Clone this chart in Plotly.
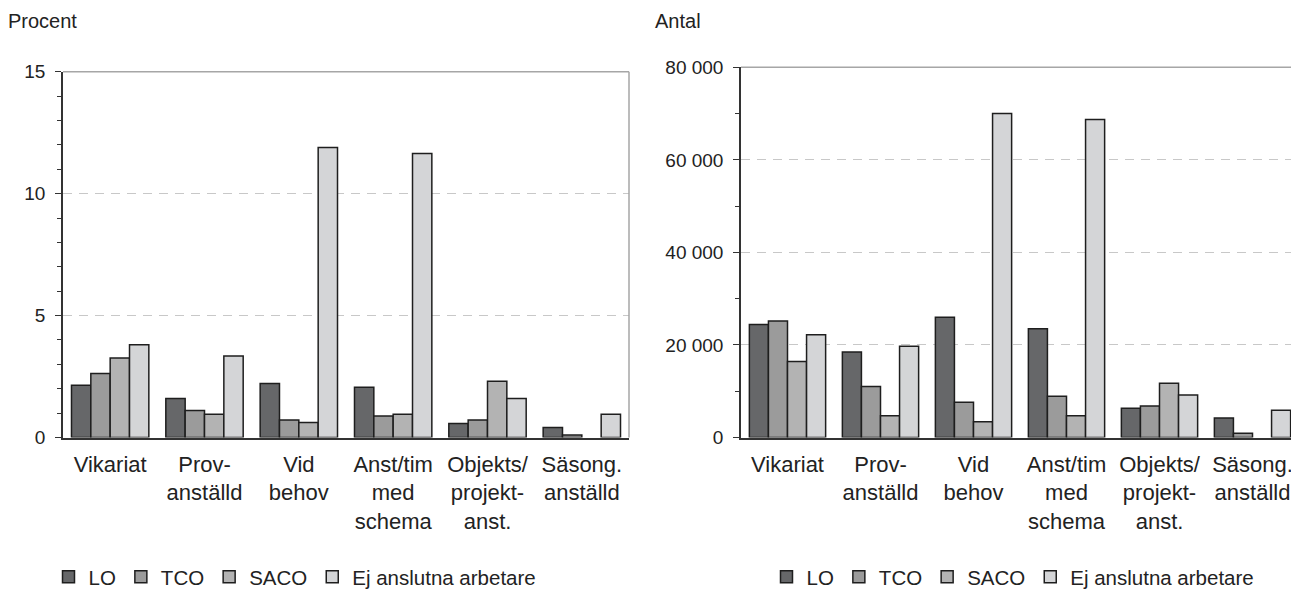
import plotly.graph_objects as go

# ---------------- data ----------------
categories = ["Vikariat", "Prov-<br>anställd", "Vid<br>behov",
              "Anst/tim<br>med<br>schema", "Objekts/<br>projekt-<br>anst.",
              "Säsong.<br>anställd"]
series_names = ["LO", "TCO", "SACO", "Ej anslutna arbetare"]

procent_LO = [2.14, 1.60, 2.21, 2.06, 0.57, 0.41]
procent_TCO = [2.62, 1.11, 0.72, 0.88, 0.72, 0.10]
procent_SACO = [3.26, 0.95, 0.62, 0.95, 2.31, None]
procent_Ej = [3.80, 3.34, 11.89, 11.65, 1.60, 0.95]

antal_LO = [24400, 18500, 26000, 23500, 6300, 4200]
antal_TCO = [25200, 11000, 7600, 8900, 6800, 900]
antal_SACO = [16400, 4700, 3400, 4700, 11700, None]
antal_Ej = [22200, 19700, 70000, 68700, 9200, 5900]

left_title = "Procent"
right_title = "Antal"

# ---------------- style ----------------
W, H = 1291, 589
colors = ["#666769", "#9b9b9b", "#b3b3b3", "#d4d5d7"]
FONT = "Liberation Sans, Arial, Helvetica, sans-serif"
dark = "#333333"
border = "#a6a6a6"


def px_x(x):
    return x / W


def px_y(y):
    return (H - y) / H


fig = go.Figure()

procent = [procent_LO, procent_TCO, procent_SACO, procent_Ej]
antal = [antal_LO, antal_TCO, antal_SACO, antal_Ej]

for name, vals, col in zip(series_names, procent, colors):
    fig.add_trace(go.Bar(x=categories, y=vals, name=name, xaxis="x", yaxis="y",
                         marker=dict(color=col, line=dict(color="#1e1e1e", width=1.5)),
                         legend="legend"))
for name, vals, col in zip(series_names, antal, colors):
    fig.add_trace(go.Bar(x=categories, y=vals, name=name, xaxis="x2", yaxis="y2",
                         marker=dict(color=col, line=dict(color="#1e1e1e", width=1.5)),
                         legend="legend2"))

ybot = px_y(437.5)

xcommon = dict(type="category", showline=True, linecolor=dark, linewidth=1.5,
               ticks="", showgrid=False, zeroline=False, ticklabelstandoff=6,
               tickfont=dict(family=FONT, size=22, color="#222222"))
ycommon = dict(showline=True, linecolor=dark, linewidth=1.5, ticks="outside",
               ticklen=6, tickwidth=1.2, tickcolor=dark, zeroline=False,
               showgrid=True, gridcolor="#c8c8c8", gridwidth=1, griddash="9px,7px",
               tickfont=dict(family=FONT, size=19, color="#222222"),
               ticklabelstandoff=6)

legcommon = dict(orientation="h", xanchor="center", y=px_y(577), yanchor="middle",
                 font=dict(family=FONT, size=20.5, color="#222222"),
                 bgcolor="rgba(0,0,0,0)", traceorder="normal")

fig.update_layout(
    width=W, height=H,
    margin=dict(l=0, r=0, t=0, b=0, autoexpand=False),
    paper_bgcolor="white", plot_bgcolor="white",
    barmode="group", bargap=0.18, bargroupgap=0,
    separators=", ",
    font=dict(family=FONT, color="#222222"),
    xaxis=dict(domain=[px_x(63), px_x(629)], anchor="y", range=[-0.5, 5.5], **xcommon),
    xaxis2=dict(domain=[px_x(741), 1.0], anchor="y2", range=[-0.5, 5.414], **xcommon),
    yaxis=dict(domain=[ybot, px_y(71.7)], anchor="x", range=[0, 15], dtick=5,
               minor=dict(dtick=1, ticks="outside", ticklen=4, tickcolor=dark, showgrid=False),
               **ycommon),
    yaxis2=dict(domain=[ybot, px_y(67.3)], anchor="x2", range=[0, 80000], dtick=20000,
                tickformat=",d",
                minor=dict(dtick=10000, ticks="outside", ticklen=4, tickcolor=dark, showgrid=False),
                **ycommon),
    legend=dict(x=px_x(295), **legcommon),
    legend2=dict(x=px_x(1013), **legcommon),
    annotations=[
        dict(text=left_title, xref="paper", yref="paper", x=px_x(6), y=px_y(21),
             xanchor="left", yanchor="middle", showarrow=False,
             font=dict(family=FONT, size=20, color="#222222")),
        dict(text=right_title, xref="paper", yref="paper", x=px_x(653), y=px_y(21),
             xanchor="left", yanchor="middle", showarrow=False,
             font=dict(family=FONT, size=20, color="#222222")),
    ],
    shapes=[
        dict(type="line", xref="x domain", yref="y domain", x0=0, x1=1, y0=1, y1=1,
             line=dict(color=border, width=1.5), layer="above"),
        dict(type="line", xref="x domain", yref="y domain", x0=1, x1=1, y0=0, y1=1,
             line=dict(color=border, width=1.5), layer="above"),
        dict(type="line", xref="x2 domain", yref="y2 domain", x0=0, x1=1, y0=1, y1=1,
             line=dict(color=border, width=1.5), layer="above"),
    ],
)

fig.write_html(
    "out.html",
    config={"displayModeBar": False},
    post_script="document.body.style.margin='0';document.body.style.overflow='hidden';",
)
